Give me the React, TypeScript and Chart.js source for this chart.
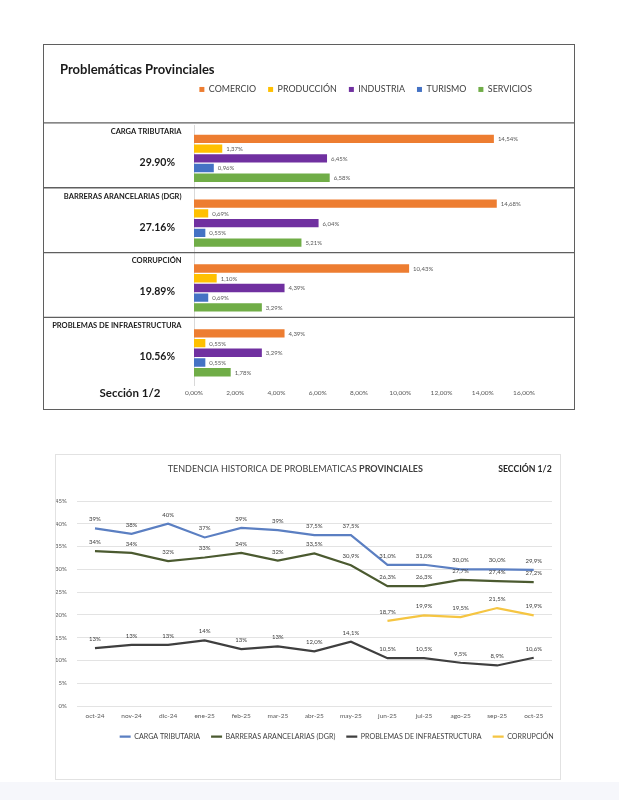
import React, { useEffect, useRef } from "react";
import { Chart, registerables } from "chart.js";

Chart.register(...registerables);

const FONT = "Lato, 'Open Sans', sans-serif";

// ---------- Top chart data ----------
const problemCategories = [
  "CARGA TRIBUTARIA",
  "BARRERAS ARANCELARIAS (DGR)",
  "CORRUPCIÓN",
  "PROBLEMAS DE INFRAESTRUCTURA",
];
const problemTotals = ["29.90%", "27.16%", "19.89%", "10.56%"];
const sectorNames = ["COMERCIO", "PRODUCCIÓN", "INDUSTRIA", "TURISMO", "SERVICIOS"];
const sectorColors = ["#ED7D31", "#FFC000", "#7030A0", "#4472C4", "#70AD47"];
const comercioValues = [14.54, 14.68, 10.43, 4.39];
const produccionValues = [1.37, 0.69, 1.1, 0.55];
const industriaValues = [6.45, 6.04, 4.39, 3.29];
const turismoValues = [0.96, 0.55, 0.69, 0.55];
const serviciosValues = [6.58, 5.21, 3.29, 1.78];
const barAxisMax = 16;
const barAxisStep = 2;

// ---------- Bottom chart data ----------
const months = [
  "oct-24", "nov-24", "dic-24", "ene-25", "feb-25", "mar-25", "abr-25",
  "may-25", "jun-25", "jul-25", "ago-25", "sep-25", "oct-25",
];
const trendNames = [
  "CARGA TRIBUTARIA",
  "BARRERAS ARANCELARIAS (DGR)",
  "PROBLEMAS DE INFRAESTRUCTURA",
  "CORRUPCIÓN",
];
const trendColors = ["#5B7FC2", "#4B5A30", "#3F3F3F", "#F5C542"];
const cargaTributariaTrend = [39.0, 37.8, 40.0, 37.0, 39.1, 38.6, 37.5, 37.5, 31.0, 31.0, 30.0, 30.0, 29.9];
const barrerasTrend = [34.0, 33.6, 31.8, 32.6, 33.6, 31.9, 33.5, 30.9, 26.3, 26.3, 27.7, 27.4, 27.2];
const infraestructuraTrend = [12.7, 13.4, 13.4, 14.4, 12.5, 13.1, 12.0, 14.1, 10.5, 10.5, 9.5, 8.9, 10.6];
const corrupcionTrend = [null, null, null, null, null, null, null, null, 18.7, 19.9, 19.5, 21.5, 19.9];
const trendAxisMax = 45;
const trendAxisStep = 5;
const firstDecimalIndex = 6; // labels show one decimal from abr-25 on

const comma = (v: number, d: number) => v.toFixed(d).replace(".", ",");

// ---------- Top chart ----------
const barAnnotations = {
  id: "barAnnotations",
  afterDatasetsDraw(chart: any) {
    const ctx = chart.ctx;
    ctx.save();
    ctx.font = `6px ${FONT}`;
    ctx.fillStyle = "#595959";
    ctx.textAlign = "left";
    ctx.textBaseline = "middle";
    chart.data.datasets.forEach((ds: any, di: number) => {
      const meta = chart.getDatasetMeta(di);
      meta.data.forEach((el: any, i: number) => {
        ctx.fillText(comma(ds.data[i], 2) + "%", el.x + 4, el.y + 0.5);
      });
    });
    ctx.restore();
  },
  afterDraw(chart: any) {
    const ctx = chart.ctx;
    const y = chart.scales.y;
    const x = chart.scales.x;
    ctx.save();
    ctx.fillStyle = "#1a1a1a";
    ctx.textBaseline = "middle";
    ctx.textAlign = "left";
    ctx.font = `bold 13px ${FONT}`;
    ctx.fillText("Problemáticas Provinciales", 16, 25);
    const half = (y.getPixelForValue(1) - y.getPixelForValue(0)) / 2;
    problemCategories.forEach((name, i) => {
      const yc = y.getPixelForValue(i);
      ctx.strokeStyle = "#5f5f5f";
      ctx.lineWidth = 1.3;
      ctx.beginPath();
      ctx.moveTo(0, yc - half - 3);
      ctx.lineTo(chart.width, yc - half - 3);
      ctx.stroke();
      ctx.textAlign = "right";
      ctx.font = `bold 7.5px ${FONT}`;
      ctx.fillText(name, 137.5, yc - 27);
      ctx.font = `bold 10.5px ${FONT}`;
      ctx.fillText(problemTotals[i], 131, yc + 4);
    });
    ctx.textAlign = "center";
    ctx.font = `bold 11.5px ${FONT}`;
    ctx.fillText("Sección 1/2", 86, x.top + 8.5);
    ctx.restore();
  },
};

function BarPanel() {
  const ref = useRef<HTMLCanvasElement>(null);
  useEffect(() => {
    const series = [comercioValues, produccionValues, industriaValues, turismoValues, serviciosValues];
    const chart = new Chart(ref.current as HTMLCanvasElement, {
      type: "bar",
      data: {
        labels: problemCategories,
        datasets: sectorNames.map((n, i) => ({
          label: n,
          data: series[i],
          backgroundColor: sectorColors[i],
          categoryPercentage: 0.75,
          barPercentage: 0.86,
          xAxisID: "x",
          yAxisID: "y",
        })),
      },
      options: {
        indexAxis: "y",
        animation: false,
        responsive: false,
        maintainAspectRatio: false,
        layout: { padding: { left: 16, right: 30, top: 28, bottom: 7 } },
        scales: {
          x: {
            type: "linear",
            position: "bottom",
            min: 0,
            max: barAxisMax,
            ticks: {
              stepSize: barAxisStep,
              callback: (v: any) => comma(Number(v), 2) + "%",
              font: { size: 6.5, family: FONT },
              color: "#595959",
              padding: 4,
            },
            grid: { display: false, drawTicks: false },
            border: { display: false },
          },
          xTop: {
            type: "linear",
            position: "top",
            display: true,
            ticks: { display: false },
            grid: { display: false, drawTicks: false },
            border: { display: false },
            afterFit: (s: any) => { s.height = 22; },
          },
          y: {
            type: "category",
            position: "left",
            ticks: { display: false },
            grid: { display: false, drawTicks: false },
            border: { display: true, color: "#d9d9d9", width: 1 },
            afterFit: (s: any) => { s.width = 134; },
          },
          yRight: {
            type: "linear",
            position: "right",
            display: true,
            ticks: { display: false },
            grid: { display: false, drawTicks: false },
            border: { display: false },
            afterFit: (s: any) => { s.width = 20; },
          },
        },
        plugins: {
          title: { display: false },
          tooltip: { enabled: false },
          legend: {
            display: true,
            position: "top",
            align: "end",
            labels: {
              boxWidth: 5,
              boxHeight: 5,
              padding: 12,
              color: "#404040",
              font: { size: 8.9, family: FONT },
            },
          },
        },
      } as any,
      plugins: [barAnnotations],
    });
    return () => chart.destroy();
  }, []);
  return (
    <canvas
      ref={ref}
      width={530}
      height={363}
      style={{ position: "absolute", left: 44, top: 45, width: 530, height: 363 }}
    />
  );
}

// ---------- Bottom chart ----------
const lineAnnotations = {
  id: "lineAnnotations",
  afterDatasetsDraw(chart: any) {
    const ctx = chart.ctx;
    ctx.save();
    ctx.font = `6px ${FONT}`;
    ctx.fillStyle = "#404040";
    ctx.textAlign = "center";
    ctx.textBaseline = "middle";
    chart.data.datasets.forEach((ds: any, di: number) => {
      const meta = chart.getDatasetMeta(di);
      meta.data.forEach((el: any, i: number) => {
        const v = ds.data[i];
        if (v === null || v === undefined) return;
        const txt = i < firstDecimalIndex ? Math.round(v) + "%" : comma(v, 1) + "%";
        ctx.fillText(txt, el.x, el.y - 9);
      });
    });
    ctx.restore();
  },
  afterDraw(chart: any) {
    const ctx = chart.ctx;
    ctx.save();
    ctx.textBaseline = "middle";
    ctx.fillStyle = "#404040";
    const normal = "TENDENCIA HISTORICA DE PROBLEMATICAS ";
    const bold = "PROVINCIALES";
    ctx.font = `9px ${FONT}`;
    const w1 = ctx.measureText(normal).width;
    ctx.font = `bold 9px ${FONT}`;
    const w2 = ctx.measureText(bold).width;
    const start = 239.3 - (w1 + w2) / 2;
    ctx.textAlign = "left";
    ctx.font = `9px ${FONT}`;
    ctx.fillText(normal, start, 14.5);
    ctx.font = `bold 9px ${FONT}`;
    ctx.fillText(bold, start + w1, 14.5);
    ctx.textAlign = "right";
    ctx.fillStyle = "#262626";
    ctx.font = `bold 8.7px ${FONT}`;
    ctx.fillText("SECCIÓN 1/2", 495.7, 14.5);
    ctx.restore();
  },
};

function LinePanel() {
  const ref = useRef<HTMLCanvasElement>(null);
  useEffect(() => {
    const series = [cargaTributariaTrend, barrerasTrend, infraestructuraTrend, corrupcionTrend];
    const chart = new Chart(ref.current as HTMLCanvasElement, {
      type: "line",
      data: {
        labels: months,
        datasets: trendNames.map((n, i) => ({
          label: n,
          data: series[i],
          borderColor: trendColors[i],
          backgroundColor: trendColors[i],
          borderWidth: 2.2,
          pointRadius: 0,
          tension: 0,
          spanGaps: false,
          fill: false,
          xAxisID: "x",
          yAxisID: "y",
        })),
      },
      options: {
        animation: false,
        responsive: false,
        maintainAspectRatio: false,
        layout: { padding: { left: 0, right: 35.3, top: 46, bottom: 28 } },
        scales: {
          x: {
            type: "category",
            offset: true,
            ticks: {
              font: { size: 6.5, family: FONT, lineHeight: 0.3 },
              color: "#595959",
              padding: 9,
              maxRotation: 0,
              autoSkip: false,
            },
            grid: { display: false, drawTicks: false },
            border: { display: false },
            afterFit: (s: any) => { s.height = 16; },
          },
          y: {
            type: "linear",
            min: 0,
            max: trendAxisMax,
            ticks: {
              stepSize: trendAxisStep,
              callback: (v: any) => v + "%",
              font: { size: 6, family: FONT },
              color: "#595959",
              padding: 10,
            },
            grid: { color: "#e3e3e3", lineWidth: 1, drawTicks: false },
            border: { display: false },
            afterFit: (s: any) => { s.width = 20.7; },
          },
          yRight: {
            type: "linear",
            position: "right",
            display: true,
            ticks: { display: false },
            grid: { display: false, drawTicks: false },
            border: { display: false },
            afterFit: (s: any) => { s.width = 12.7; },
          },
        },
        plugins: {
          title: { display: false },
          tooltip: { enabled: false },
          legend: {
            display: true,
            position: "bottom",
            align: "end",
            maxHeight: 28,
            labels: {
              usePointStyle: true,
              pointStyle: "line",
              pointStyleWidth: 11,
              padding: 11,
              color: "#404040",
              font: { size: 7.1, family: FONT },
            },
          },
        },
      } as any,
      plugins: [lineAnnotations],
    });
    return () => chart.destroy();
  }, []);
  return (
    <canvas
      ref={ref}
      width={544}
      height={323}
      style={{ position: "absolute", left: 56, top: 455, width: 544, height: 323 }}
    />
  );
}

export default function App() {
  return (
    <div
      style={{
        position: "absolute",
        left: 0,
        top: 0,
        width: 619,
        height: 800,
        background: "#ffffff",
        overflow: "hidden",
        fontFamily: FONT,
      }}
    >
      <div
        style={{
          position: "absolute",
          left: 43,
          top: 44,
          width: 532,
          height: 366,
          border: "1.5px solid #5f5f5f",
          boxSizing: "border-box",
        }}
      />
      <div
        style={{
          position: "absolute",
          left: 55,
          top: 454,
          width: 506,
          height: 326,
          border: "1px solid #e2e2e2",
          boxSizing: "border-box",
          background: "#ffffff",
        }}
      />
      <div
        style={{
          position: "absolute",
          left: 0,
          top: 782,
          width: 619,
          height: 18,
          background: "#F6F7FB",
        }}
      />
      <BarPanel />
      <LinePanel />
    </div>
  );
}
